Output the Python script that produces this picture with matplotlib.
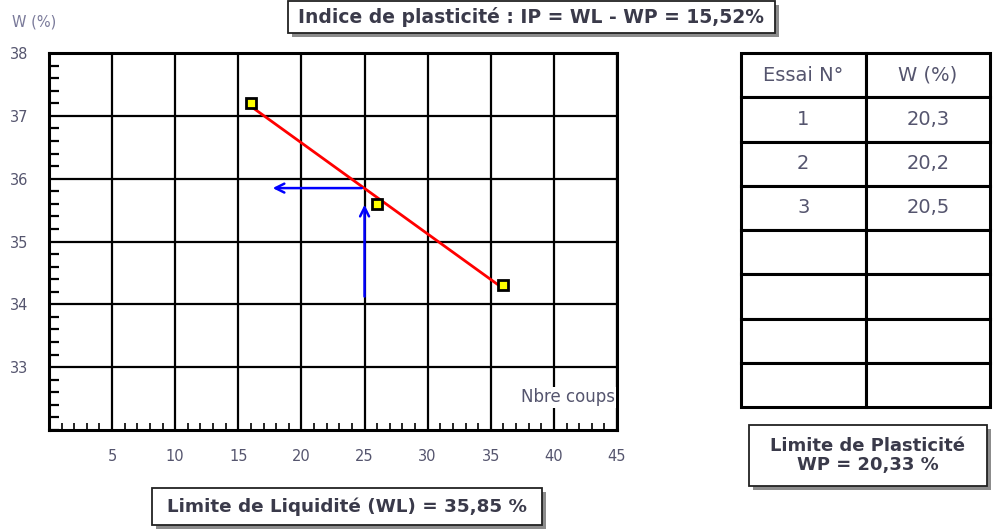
import numpy as np
import matplotlib
matplotlib.use("Agg")
import matplotlib.pyplot as plt
from matplotlib.patches import Rectangle
from matplotlib.ticker import MultipleLocator

plt.rcParams["font.family"] = ["DejaVu Sans"]

# --- data ---
coups   = [16, 26, 36]          # Nbre coups
w_liq   = [37.2, 35.6, 34.3]    # W (%) liquidity test
essai   = ["1", "2", "3"]
w_plast = ["20,3", "20,2", "20,5"]
WL = 35.85
WP = 20.33
IP = 15.52
N_REF = 25
x_ticks = [5, 10, 15, 20, 25, 30, 35, 40, 45]
y_ticks = [33, 34, 35, 36, 37, 38]

W, H = 993, 530
fig = plt.figure(figsize=(W / 100, H / 100), dpi=100)
fig.patch.set_facecolor("white")

TXT = "#3a3a4a"
TICK = "#55556e"


def px(x0, y0, x1, y1):
    # pixel box (top-left origin) -> figure fraction rect
    return [x0 / W, 1 - y1 / H, (x1 - x0) / W, (y1 - y0) / H]


def boxed_text(x0, y0, x1, y1, text, size=11, weight="bold"):
    l, b, w, h = px(x0, y0, x1, y1)
    sh = 4
    fig.patches.append(Rectangle((l + sh / W, b - sh / H), w, h, transform=fig.transFigure,
                                 facecolor="#8c8c8c", edgecolor="none", zorder=1))
    fig.patches.append(Rectangle((l, b), w, h, transform=fig.transFigure,
                                 facecolor="white", edgecolor="#222222", lw=1.3, zorder=2))
    fig.text(l + w / 2, b + h / 2, text, ha="center", va="center", fontsize=size,
             fontweight=weight, color=TXT, zorder=3, linespacing=1.05)


# --- main chart ---
ax = fig.add_axes(px(49, 53, 617, 430))
ax.set_xlim(0, 45)
ax.set_ylim(32, 38)
ax.set_xticks(x_ticks)
ax.set_yticks(y_ticks)
ax.xaxis.set_minor_locator(MultipleLocator(1))
ax.yaxis.set_minor_locator(MultipleLocator(0.2))
ax.grid(True, which="major", color="black", lw=1.6)
ax.set_axisbelow(True)
for s in ax.spines.values():
    s.set_linewidth(2.2)
ax.tick_params(which="major", length=0, labelsize=10.5, labelcolor=TICK)
ax.tick_params(axis="y", which="major", pad=15)
ax.tick_params(axis="x", which="major", pad=14)
ax.tick_params(axis="y", which="minor", direction="in", length=7, width=1.6)
ax.tick_params(axis="x", which="minor", direction="in", length=5, width=1.2)

fit = np.polyfit(coups, w_liq, 1)
xs = np.array([min(coups), max(coups)])
ax.plot(xs, np.polyval(fit, xs), color="red", lw=2, zorder=3)
ax.plot(coups, w_liq, "s", ms=7, mfc="yellow", mec="black", mew=2, zorder=4)

ax.annotate("", xy=(N_REF, 35.63), xytext=(N_REF, 34.08),
            arrowprops=dict(arrowstyle="->", color="blue", lw=1.8, mutation_scale=16), zorder=3)
ax.annotate("", xy=(17.5, WL), xytext=(N_REF, WL),
            arrowprops=dict(arrowstyle="->", color="blue", lw=1.8, mutation_scale=16), zorder=3)

ax.text(44.85, 32.52, "Nbre coups", ha="right", va="center", fontsize=12, color=TICK,
        bbox=dict(facecolor="white", edgecolor="none", pad=1), zorder=5)

fig.text(12 / W, 1 - 22 / H, "W (%)", fontsize=10.5, color="#7a7a9a", va="center")

# --- boxes ---
boxed_text(288, 1, 775, 33, "Indice de plasticité : IP = WL - WP = %s%%" % f"{IP:.2f}".replace(".", ","), size=13.5)
boxed_text(152, 488, 542, 525, "Limite de Liquidité (WL) = %s %%" % f"{WL:.2f}".replace(".", ","), size=13.2)
boxed_text(749, 425, 987, 486, "Limite de Plasticité\nWP = %s %%" % f"{WP:.2f}".replace(".", ","), size=13)

# --- table ---
tax = fig.add_axes(px(741, 53, 990, 407))
tax.axis("off")
rows = [["Essai N°", "W (%)"]] + [[e, w] for e, w in zip(essai, w_plast)] + [["", ""]] * 4
tbl = tax.table(cellText=rows, bbox=[0, 0, 1, 1], cellLoc="center")
tbl.auto_set_font_size(False)
for (r, c), cell in tbl.get_celld().items():
    cell.set_linewidth(2.2)
    cell.set_edgecolor("black")
    cell.get_text().set_fontsize(14)
    cell.get_text().set_color(TICK)

fig.savefig("out.png", dpi=100)
